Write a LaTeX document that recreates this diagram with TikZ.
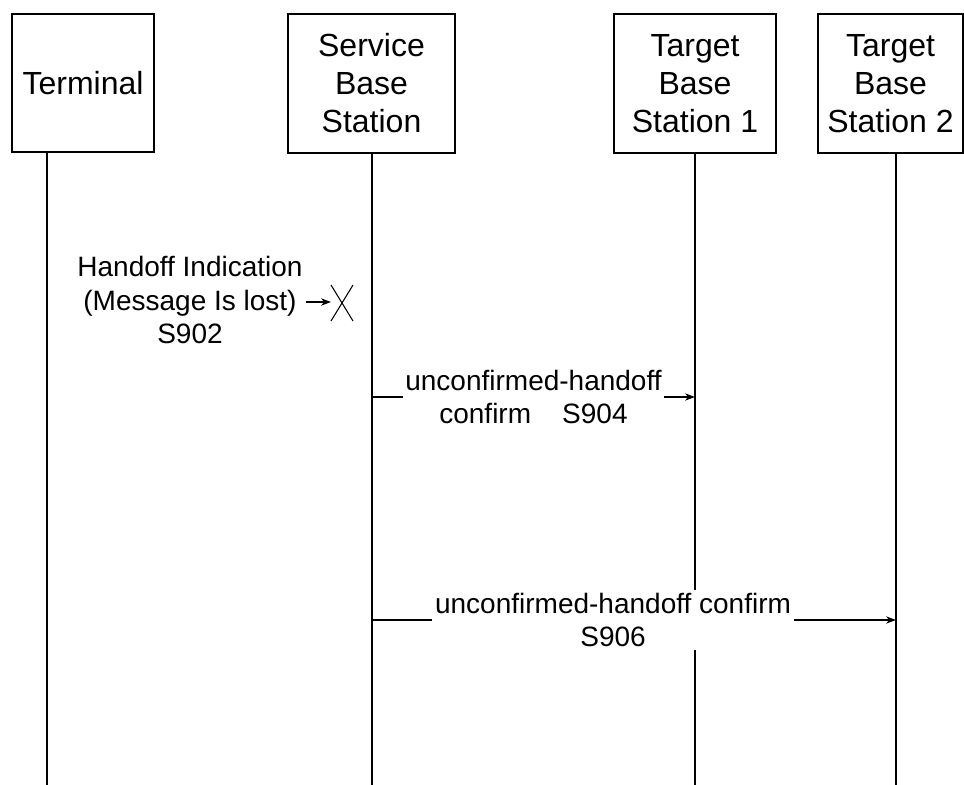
\documentclass[tikz,border=0pt]{standalone}
\usepackage{fontspec}
\setmainfont{Liberation Sans}
\usetikzlibrary{arrows.meta}

\begin{document}
\begin{tikzpicture}[x=0.75pt,y=-0.75pt,>={Stealth[length=7.5pt,width=5.5pt]},semithick]
	\tikzstyle{entity}=[draw=black,line width=1.3pt,align=center,inner sep=0pt,
		minimum height=104pt,font=\fontsize{24}{28.5}\selectfont]
	\tikzstyle{life}=[line width=1.5pt]
	\tikzstyle{msg}=[->,line width=0.8pt]
	\tikzstyle{lbl}=[fill=white,align=center,inner sep=2pt,font=\fontsize{21}{25}\selectfont]
	\useasboundingbox (0,0) rectangle (964,785);

	\node[entity,minimum width=106.5pt] (term) at (83,83) {Terminal};
	\node[entity,minimum width=125.25pt] (sbs) at (371.5,83.5) {Service\\Base\\Station};
	\node[entity,minimum width=121.5pt] (tbs1) at (695,83.5) {Target\\Base\\Station 1};
	\node[entity,minimum width=108.75pt] (tbs2) at (890.5,83.5) {Target\\Base\\Station 2};

	\coordinate (term0) at (47,152);
	\coordinate (term1) at (47,785);
	\coordinate (sbs1) at (372,785);
	\coordinate (tbs11) at (695,785);
	\coordinate (tbs21) at (896,785);
	\draw[life] (term0) -- (term1);
	\draw[life] (sbs.south -| sbs1) -- (sbs1);
	\draw[life] (tbs1.south) -- (tbs11);
	\draw[life] (tbs2.south -| tbs21) -- (tbs21);

	\node[lbl] (h902) at (190,300) {Handoff Indication\\(Message Is lost)\\S902};
	\coordinate (lost) at (331,302);
	\draw[msg] (h902.east |- lost) -- (lost);
	\draw[line width=0.8pt] (lost) ++(0,-17) -- ++(22,36) (lost) ++(22,-17) -- ++(-22,36);

	\coordinate (s904) at (372,397);
	\coordinate (a904) at (695,397);
	\draw[msg] (s904) -- (a904) node[lbl,midway] {unconfirmed-handoff\\confirm\ \ \ \ S904};

	\coordinate (s906) at (372,620);
	\coordinate (b906) at (896,620);
	\draw[msg] (s906) -- (b906) node[lbl,pos=0.46] {unconfirmed-handoff confirm\\S906};
\end{tikzpicture}
\end{document}
